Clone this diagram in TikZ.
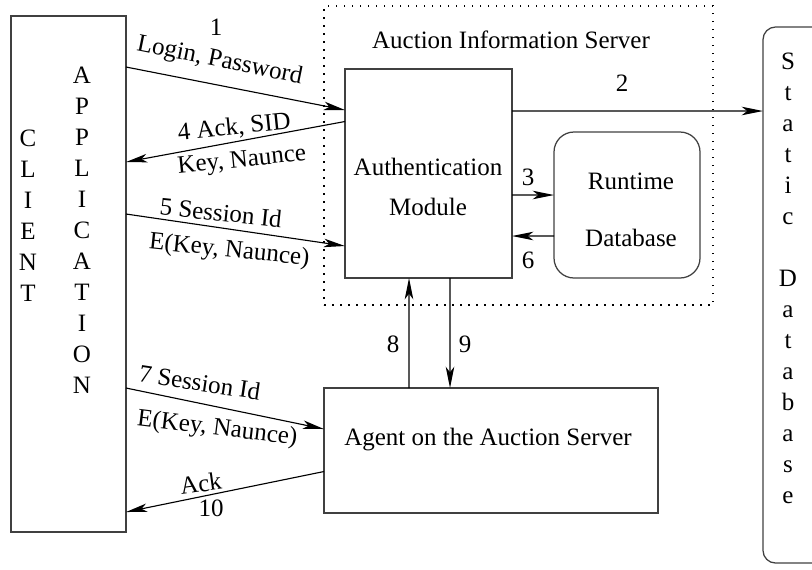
\documentclass[tikz,border=0pt]{standalone}
\usepackage{fontspec}
\setmainfont{Liberation Serif}
\usetikzlibrary{calc,arrows.meta}
\tikzset{
  box/.style={draw=black!75, line width=0.5pt, inner sep=0pt, outer sep=0pt},
  msg/.style={-{Stealth[length=8.5pt,width=3.4pt,inset=2.2pt]}, line width=0.45pt},
  lbl/.style={anchor=base, inner sep=0pt},
  letters/.style={align=center, inner sep=0pt, font=\fontsize{10}{12.4}\selectfont}
}
\begin{document}
\begin{tikzpicture}[x=0.4pt, y=-0.4pt, font=\fontsize{10}{12.4}\selectfont]
\clip (0,0) rectangle (812,569);
% boxes
\node (server) [box, draw=black, dash pattern=on 0.6pt off 2.6pt, minimum width=155.6pt, minimum height=119.6pt] at (518.5,155.5) {};
\node (client) [box, minimum width=46pt, minimum height=206.4pt] at (68.5,274) {};
\node (auth) [box, minimum width=66.8pt, minimum height=83.6pt] at (428.5,173.5) {};
\node (runtime) [box, rounded corners=8pt, minimum width=58.4pt, minimum height=58.4pt] at (627,205) {};
\node (staticdb) [box, rounded corners=5pt, minimum width=34.8pt, minimum height=214.4pt] at (806.5,295) {};
\node (agent) [box, minimum width=133.6pt, minimum height=50pt] at (491,450.5) {};
% texts in the boxes
\node (servertxt) [lbl] at (511,48) {Auction Information Server};
\node (clienttxt) [letters] at (28,216) {C\\L\\I\\E\\N\\T};
\node (apptxt) [letters] at (82,230.5) {A\\P\\P\\L\\I\\C\\A\\T\\I\\O\\N};
\node (statictxt) [letters] at (788,278.8) {S\\t\\a\\t\\i\\c\\[12.4pt]D\\a\\t\\a\\b\\a\\s\\e};
\node (authtxt) [letters, font=\fontsize{10}{16}\selectfont] at (428,186.5) {Authentication\\Module};
\node (runtimetxt) [letters, font=\fontsize{10}{22.8}\selectfont] at (631,210) {Runtime\\Database};
\node (agenttxt) [lbl] at (488,445) {Agent on the Auction Server};
% messages
\draw[msg] ($(client.north east)+(0,51)$) -- ($(auth.north west)+(0,41)$);
\draw[msg] ($(auth.north west)+(0,52.5)$) -- ($(client.north east)+(0,146)$);
\draw[msg] ($(client.north east)+(0,198)$) -- ($(auth.north west)+(0,177)$);
\draw[msg] ($(auth.north east)+(0,42)$) -- ($(staticdb.north west)+(0,84)$);
\draw[msg] ($(auth.north east)+(0,126)$) -- ($(runtime.north west)+(0,63)$);
\draw[msg] ($(runtime.north west)+(0,104)$) -- ($(auth.north east)+(0,167)$);
\draw[msg] ($(agent.north west)+(85,0)$) -- ($(auth.south west)+(64,0)$);
\draw[msg] ($(auth.south west)+(105,0)$) -- ($(agent.north west)+(126,0)$);
\draw[msg] ($(client.north east)+(0,372)$) -- ($(agent.north west)+(0,41)$);
\draw[msg] ($(agent.north west)+(0,83.5)$) -- ($(client.north east)+(0,496)$);
% message labels
\node (m1) [lbl] at (216,35) {1};\node (m1a) [lbl, rotate=-11.5] at (218.5,67) {Login, Password};
\node (m4a) [lbl, rotate=6] at (235,134.5) {4 Ack, SID};\node (m4b) [lbl, rotate=6] at (242.5,167) {Key, Naunce};
\node (m5a) [lbl, rotate=-6] at (220,221) {5 Session Id};\node (m5b) [lbl, rotate=-6] at (228.7,257) {E(Key, Naunce)};
\node (m2) [lbl] at (622,91) {2};\node (m3) [lbl] at (528,185) {3};\node (m6) [lbl] at (528,268) {6};
\node (m8) [lbl] at (393,352) {8};\node (m9) [lbl] at (465,352) {9};
\node (m7a) [lbl, rotate=-8.5] at (198.5,391) {7 Session Id};\node (m7b) [lbl, rotate=-7] at (216.5,435) {E(Key, Naunce)};
\node (m10a) [lbl, rotate=8] at (202,492) {Ack};\node (m10) [lbl] at (211,516.7) {10};
\end{tikzpicture}
\end{document}
